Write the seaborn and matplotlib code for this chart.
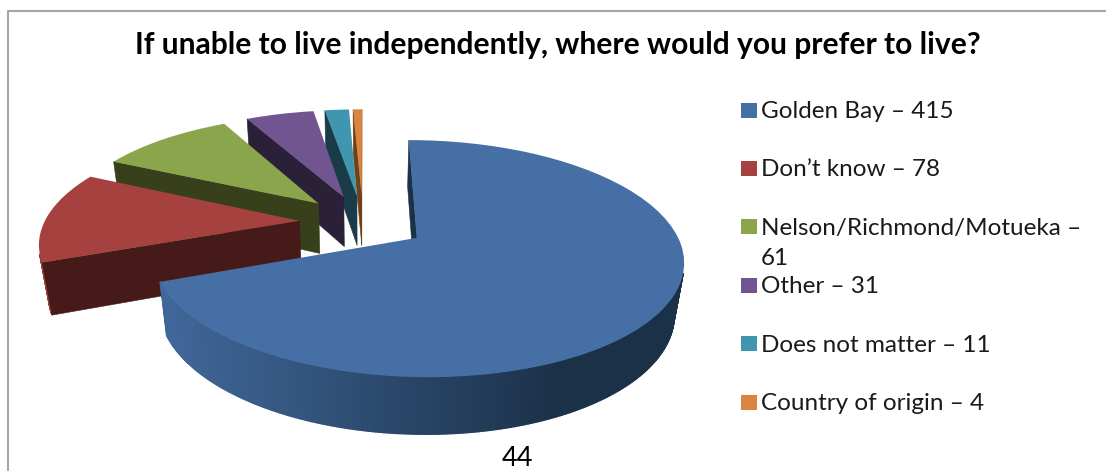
import numpy as np
import matplotlib
matplotlib.use("Agg")
import matplotlib.pyplot as plt
import seaborn as sns
from matplotlib.patches import Polygon, Rectangle
from matplotlib.transforms import Transform

categories = ["Golden Bay", "Don\u2019t know", "Nelson/Richmond/Motueka", "Other",
              "Does not matter", "Country of origin"]
counts = [415, 78, 61, 31, 11, 4]
top_colors = ["#456fa5", "#a54240", "#8aa54b", "#705590", "#4096ae", "#db843d"]
edge_colors = ["#1b3148", "#451a18", "#373f1b", "#2a2038", "#1a3c4a", "#6e4119"]
title = "If unable to live independently, where would you prefer to live?"
page_number = "44"

sns.set_theme(style="white")
plt.rcParams["font.family"] = ["Lato", "DejaVu Sans"]


class TiltedPlane(Transform):
    """Perspective view of the pie's plane; drop=1 gives the underside of the disc."""
    input_dims = 2
    output_dims = 2

    def __init__(self, drop=0.0):
        super().__init__()
        self.drop = drop

    def transform_non_affine(self, values):
        values = np.asarray(values, dtype=float)
        x, y = values[:, 0], values[:, 1]
        w = 1 + 0.171 * y + 0.03 * self.drop
        return np.column_stack([363 + 255 * x / w, 222 + (52.3 * self.drop - 109.4 * y) / w])


fig = plt.figure(figsize=(11.06, 4.71), dpi=100, facecolor="white")
ax = fig.add_axes([0, 0, 1, 1])
wedges, _ = ax.pie(counts, explode=[0.25] * len(counts), startangle=90, counterclock=False,
                   colors=top_colors, wedgeprops={"linewidth": 0})
ax.set_aspect("auto")
ax.set_xlim(0, 1106)
ax.set_ylim(471, 0)
ax.set_axis_off()

top_view, bottom_view = TiltedPlane(0.0), TiltedPlane(1.0)


def add_wall(points, color, z, stroke):
    """Draw the wall under a run of edge points, skipping walls that face away."""
    upper = top_view.transform(points)
    lower = bottom_view.transform(points)
    outline = np.vstack([upper, lower[::-1]])
    xs, ys = outline[:, 0], outline[:, 1]
    area = np.sum(xs * np.roll(ys, -1) - np.roll(xs, -1) * ys)
    if area <= 0:
        return
    ax.add_patch(Polygon(outline, closed=True, facecolor=color, edgecolor=color,
                         linewidth=stroke, zorder=z))


# Paint from the far slices to the near ones so nearer walls hide what lies behind.
for rank, i in enumerate(range(len(wedges) - 1, -1, -1)):
    wedge = wedges[i]
    z = 3 + rank * 2
    cx, cy = wedge.center
    start, end = wedge.theta1, wedge.theta2
    shade = sns.blend_palette([tuple(0.93 * c for c in matplotlib.colors.to_rgb(top_colors[i])),
                               edge_colors[i]], 256)

    angles = np.radians(np.arange(start, end + 0.5, 0.5))
    angles[-1] = np.radians(end)
    rim = np.column_stack([cx + np.cos(angles), cy + np.sin(angles)])
    for a, b in zip(rim[:-1], rim[1:]):
        px = top_view.transform(np.array([a]))[0, 0]
        t = np.clip((px - 165) / 395, 0, 1)
        add_wall(np.array([a, b]), shade[int(t * 255)], z, 1.0)

    hub = np.array([cx, cy])
    add_wall(np.array([hub, rim[0]]), edge_colors[i], z, 0.4)
    add_wall(np.array([rim[-1], hub]), edge_colors[i], z, 0.4)

    wedge.set_transform(top_view + ax.transData)
    wedge.set_zorder(z + 1)

# Chart frame
ax.plot([8, 8, 1106], [471, 11, 11], color="#a6a6a6", linewidth=1.5, zorder=1)

ax.text(558, 45, title, fontsize=21.6, fontweight="bold", color="black",
        ha="center", va="center", zorder=30)

# Legend entries
for i, (category, count) in enumerate(zip(categories, counts)):
    y = 110 + 58.4 * i
    ax.add_patch(Rectangle((741, y - 7.5), 15.5, 15, facecolor=top_colors[i], linewidth=0, zorder=30))
    label = f"{category} \u2013 {count}"
    if category.startswith("Nelson"):
        head, tail = label.rsplit(" ", 1)
        ax.text(761, y + 8, head, fontsize=17.5, color="#1a1a1a", va="baseline", zorder=30)
        ax.text(761, y + 38, tail, fontsize=17.5, color="#1a1a1a", va="baseline", zorder=30)
    else:
        ax.text(761, y + 8, label, fontsize=17.5, color="#1a1a1a", va="baseline", zorder=30)

ax.text(517, 458, page_number, fontsize=19.5, color="black", ha="center", va="center", zorder=30)

fig.savefig("out.png", dpi=100, facecolor="white")
